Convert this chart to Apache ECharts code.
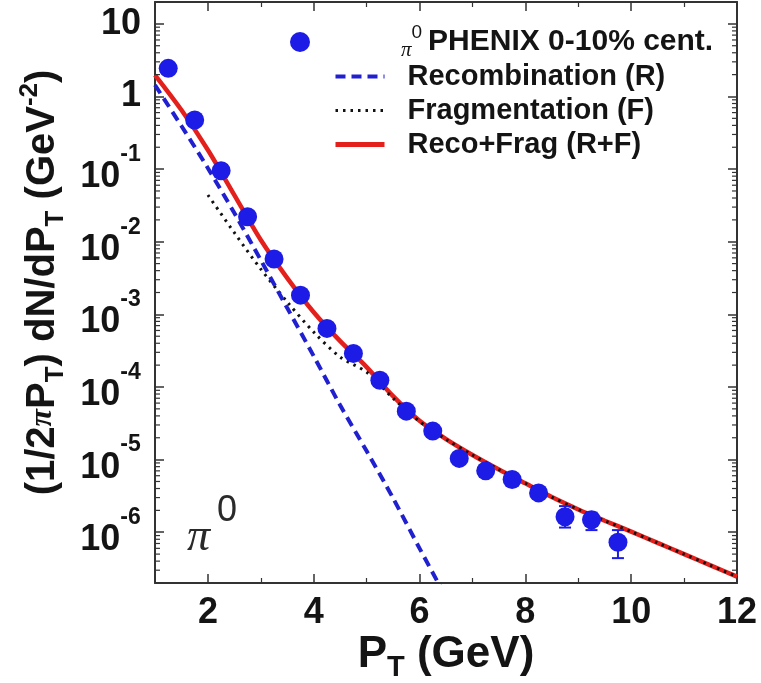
<!DOCTYPE html>
<html><head><meta charset="utf-8">
<script src="https://cdn.jsdelivr.net/npm/echarts@6/dist/echarts.min.js"></script>
<style>html,body{margin:0;padding:0;background:#fff}#c{width:761px;height:683px}</style>
</head><body><div id="c"></div>
<script>
// ---- data ----
const ptX = [1.25,1.75,2.25,2.75,3.25,3.75,4.25,4.75,5.25,5.75,6.25,6.75,7.25,7.75,8.25,8.75,9.25,9.75];
const ptY = [2.44,0.474,0.0949,0.0221,0.00577,0.00184,6.41e-4,2.90e-4,1.24e-4,4.65e-5,2.47e-5,1.04e-5,7.0e-6,5.33e-6,3.48e-6,1.63e-6,1.49e-6,7.3e-7];
const errX = [8.75,9.25,9.75];
const errLo = [1.16e-6,1.07e-6,4.4e-7];
const errHi = [2.29e-6,1.86e-6,1.07e-6];
const recoX = [1,1.5,2,2.5,3,3.5,4,4.5,5,5.5,6,6.5];
const recoY = [1.44,0.392,0.103,0.0248,5.58e-3,1.22e-3,2.66e-4,5.6e-5,1.31e-5,2.94e-6,6.0e-7,1.27e-7];
const fragX = [2,2.5,3,3.5,4,4.5,5,5.5,6,6.5,7,7.5,8,8.5,9,9.5,10,10.5,11,11.5,12];
const fragY = [0.044,0.0133,4.2e-3,1.48e-3,5.7e-4,2.58e-4,1.6e-4,7.0e-5,3.35e-5,1.91e-5,1.16e-5,7.31e-6,4.72e-6,3.05e-6,2.06e-6,1.44e-6,1.02e-6,7.14e-7,5.0e-7,3.5e-7,2.45e-7];
const sumX = [1,1.5,2,2.5,3,3.5,4,4.5,5,5.5,6,6.5,7,7.5,8,8.5,9,9.5,10,10.5,11,11.5,12];
const sumY = [1.975,0.651,0.183,0.0439,0.01054,3.16e-3,1.07e-3,4.28e-4,1.88e-4,7.48e-5,3.42e-5,1.92e-5,1.16e-5,7.31e-6,4.72e-6,3.05e-6,2.06e-6,1.44e-6,1.02e-6,7.14e-7,5.0e-7,3.5e-7,2.45e-7];
const xTickLabels = ['2','4','6','8','10','12'];
const seriesNames = ['\u03c00 PHENIX 0-10% cent.', 'Recombination (R)', 'Fragmentation (F)', 'Reco+Frag (R+F)'];

const xMin = 1, xMax = 12, yMin = 2e-7, yMax = 20;
const FONT = '"Liberation Sans", Arial, Helvetica, sans-serif';
const SERIF = '"Liberation Serif", "Times New Roman", serif';
const BLUE = '#1c1ce6', DBLUE = '#2020d0', RED = '#e3201c', TXT = '#141414', AX = '#333';

// log minor tick positions (axis decoration)
const minorVals = [];
for (let e = -7; e <= 1; e++) for (let k = 2; k <= 9; k++) {
  const v = k * Math.pow(10, e);
  if (v > yMin && v < yMax) minorVals.push(v);
}

const zip = (a, b) => a.map((v, i) => [v, b[i]]);

const chart = echarts.init(document.getElementById('c'), null, {renderer: 'canvas'});

const yLabelRich = {
  c: {fontFamily: FONT, fontWeight: 'bold', fontSize: 36, color: TXT, lineHeight: 36},
  b: {fontFamily: FONT, fontWeight: 'bold', fontSize: 36, color: TXT, lineHeight: 36, verticalAlign: 'bottom'},
  e: {fontFamily: FONT, fontWeight: 'bold', fontSize: 23, color: TXT, lineHeight: 41, verticalAlign: 'top'},
  z: {fontFamily: FONT, fontSize: 1, color: TXT, lineHeight: 52}
};
function yFmt(v) {
  const L = Math.log10(v);
  const e = Math.round(L);
  if (Math.abs(L - e) > 1e-6) return '';
  if (e === 1) return '{c|10}';
  if (e === 0) return '{c|1}';
  return '{b|10}{e|' + e + '}{z| }';
}

const xAxisCommon = {
  type: 'value', min: xMin, max: xMax, splitNumber: 5,
  axisLine: {show: true, lineStyle: {color: AX, width: 2}},
  axisTick: {show: true, inside: true, length: 9, lineStyle: {color: AX, width: 1.5}},
  minorTick: {show: true, splitNumber: 2, length: 5, lineStyle: {color: AX, width: 1.2}},
  splitLine: {show: false}, minorSplitLine: {show: false}
};
const yAxisCommon = {
  type: 'log', logBase: 10, min: yMin, max: yMax, splitNumber: 8,
  axisLine: {show: true, lineStyle: {color: AX, width: 2}},
  axisTick: {show: true, inside: true, length: 9, lineStyle: {color: AX, width: 1.5}},
  minorTick: {show: false},
  splitLine: {show: false}, minorSplitLine: {show: false}
};

const option = {
  animation: false,
  backgroundColor: '#fff',
  grid: {left: 155, right: 24, top: 2, bottom: 100, containLabel: false, outerBoundsMode: 'none'},
  xAxis: [
    Object.assign({}, xAxisCommon, {
      position: 'bottom',
      name: 'P{sub|T} (GeV)', nameLocation: 'middle', nameGap: 45, nameMoveOverlap: false,
      nameTextStyle: {fontFamily: FONT, fontWeight: 'bold', fontSize: 44, color: TXT, lineHeight: 54,
        rich: {sub: {fontFamily: FONT, fontWeight: 'bold', fontSize: 29, color: TXT, lineHeight: 29, verticalAlign: 'bottom'}}},
      axisLabel: {show: true, margin: 12, fontFamily: FONT, fontWeight: 'bold', fontSize: 36, color: TXT,
        formatter: v => { const s = String(v); return xTickLabels.indexOf(s) >= 0 ? s : ''; }}
    }),
    Object.assign({}, xAxisCommon, {position: 'top', axisLabel: {show: false}})
  ],
  yAxis: [
    Object.assign({}, yAxisCommon, {
      position: 'left',
      name: '(1/2{pi|\u03c0}P{sub|T}) dN/dP{sub|T} (GeV{sup|-2})', nameLocation: 'middle', nameGap: 86,
      nameTextStyle: {fontFamily: FONT, fontWeight: 'bold', fontSize: 40, color: TXT, lineHeight: 52,
        padding: [0, 0, 0, 20],
        rich: {
          pi: {fontFamily: SERIF, fontStyle: 'italic', fontSize: 32, color: TXT, lineHeight: 52},
          sub: {fontFamily: FONT, fontWeight: 'bold', fontSize: 26, color: TXT, lineHeight: 26, verticalAlign: 'bottom'},
          sup: {fontFamily: FONT, fontWeight: 'bold', fontSize: 26, color: TXT, lineHeight: 26, verticalAlign: 'top'}
        }},
      axisLabel: {show: true, margin: 14, formatter: yFmt, rich: yLabelRich}
    }),
    Object.assign({}, yAxisCommon, {position: 'right', axisLabel: {show: false}})
  ],
  legend: [
    {
      show: true, selectedMode: false, orient: 'vertical', left: 290, top: 23, padding: 0,
      itemWidth: 20, itemHeight: 20,
      data: [{name: seriesNames[0], icon: 'circle'}],
      formatter: () => '{pi|\u03c0}{s|0}{t|PHENIX 0-10% cent.}',
      textStyle: {color: TXT, rich: {
        pi: {fontFamily: SERIF, fontStyle: 'italic', fontSize: 21, color: TXT, lineHeight: 38, padding: [0, 0, 0, 86], verticalAlign: 'bottom'},
        s: {fontFamily: FONT, fontSize: 19, color: TXT, lineHeight: 19, verticalAlign: 'top', padding: [0, 6, 0, 0]},
        t: {fontFamily: FONT, fontWeight: 'bold', fontSize: 30, color: TXT, lineHeight: 38}
      }}
    },
    {
      show: true, selectedMode: false, orient: 'vertical', left: 333, top: 62, padding: 0,
      itemWidth: 49, itemHeight: 14, itemGap: 5,
      itemStyle: {opacity: 0},
      data: [
        {name: seriesNames[1], lineStyle: {width: 4}},
        {name: seriesNames[2], lineStyle: {width: 3}},
        {name: seriesNames[3], lineStyle: {width: 5}}
      ],
      textStyle: {color: TXT, fontFamily: FONT, fontWeight: 'bold', fontSize: 29, padding: [0, 0, 0, 18]}
    }
  ],
  graphic: [
    {type: 'text', left: 187, top: 515, style: {text: '\u03c0', font: 'italic 46px ' + SERIF, fill: '#2a2a2a'}},
    {type: 'text', left: 217, top: 493, style: {text: '0', font: '36px ' + FONT, fill: '#2a2a2a'}}
  ],
  series: [
    {
      name: seriesNames[3], type: 'line', xAxisIndex: 0, yAxisIndex: 0,
      data: zip(sumX, sumY), smooth: 0.3, symbol: 'none', clip: true, z: 2,
      lineStyle: {color: RED, width: 4.5}, itemStyle: {color: RED}
    },
    {
      name: seriesNames[2], type: 'line', xAxisIndex: 0, yAxisIndex: 0,
      data: zip(fragX, fragY), smooth: 0.3, symbol: 'none', clip: true, z: 3,
      lineStyle: {color: '#111', width: 3, type: [2.5, 5]}, itemStyle: {color: '#111'}
    },
    {
      name: seriesNames[1], type: 'line', xAxisIndex: 0, yAxisIndex: 0,
      data: zip(recoX, recoY), smooth: 0.3, symbol: 'none', clip: true, z: 3,
      lineStyle: {color: DBLUE, width: 4, type: [10, 6]}, itemStyle: {color: DBLUE}
    },
    {
      name: 'err', type: 'custom', xAxisIndex: 0, yAxisIndex: 0, z: 4, silent: true,
      data: errX.map((x, i) => [x, errLo[i], errHi[i]]),
      encode: {x: 0, y: [1, 2]},
      renderItem: (params, api) => {
        const x = api.value(0), lo = api.value(1), hi = api.value(2);
        const p = api.coord([x, lo]), q = api.coord([x, hi]);
        const w = 6, st = {stroke: BLUE, lineWidth: 2};
        return {type: 'group', children: [
          {type: 'line', shape: {x1: p[0], y1: p[1], x2: q[0], y2: q[1]}, style: st},
          {type: 'line', shape: {x1: p[0] - w, y1: p[1], x2: p[0] + w, y2: p[1]}, style: st},
          {type: 'line', shape: {x1: q[0] - w, y1: q[1], x2: q[0] + w, y2: q[1]}, style: st}
        ]};
      }
    },
    {
      name: seriesNames[0], type: 'scatter', xAxisIndex: 0, yAxisIndex: 0, z: 5,
      data: zip(ptX, ptY), symbol: 'circle', symbolSize: 19,
      itemStyle: {color: BLUE, opacity: 1}
    },
    {
      name: 'minorTicks', type: 'custom', xAxisIndex: 0, yAxisIndex: 0, z: 6, silent: true,
      data: minorVals.map(v => [xMin, v]),
      encode: {x: 0, y: 1},
      renderItem: (params, api) => {
        const v = api.value(1);
        const a = api.coord([xMin, v]), b = api.coord([xMax, v]);
        const st = {stroke: AX, lineWidth: 1.2};
        return {type: 'group', children: [
          {type: 'line', shape: {x1: a[0], y1: a[1], x2: a[0] + 5, y2: a[1]}, style: st},
          {type: 'line', shape: {x1: b[0], y1: b[1], x2: b[0] - 5, y2: b[1]}, style: st}
        ]};
      }
    }
  ]
};
chart.setOption(option);
</script>
</body></html>
